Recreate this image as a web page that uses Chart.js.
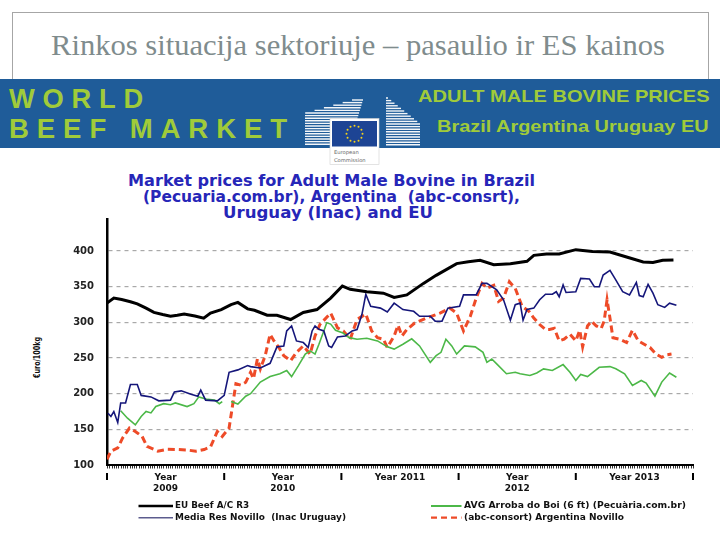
<!DOCTYPE html>
<html><head><meta charset="utf-8">
<script src="https://cdn.jsdelivr.net/npm/chart.js@4/dist/chart.umd.min.js"></script>
<style>
html,body{margin:0;padding:0;background:#fff;width:720px;height:540px;overflow:hidden;}
.abs{position:absolute;white-space:nowrap;}
.fit{display:inline-block;transform-origin:0 50%;}
#titlebox{position:absolute;left:12px;top:12px;width:697px;height:70px;border:1px solid #a6a6a6;box-sizing:border-box;}
#banner{position:absolute;left:0;top:79px;width:720px;height:69px;background:#1f5c99;}
.bn{font-family:'Liberation Sans',Arial,sans-serif;font-weight:bold;color:#a0cb3a;}
.ct{font-family:'DejaVu Sans',sans-serif;font-weight:bold;color:#2626b8;font-size:15px;line-height:15px;}
.lg{font-family:'DejaVu Sans',sans-serif;font-weight:bold;color:#111;font-size:9px;line-height:9px;}
#chartwrap{position:absolute;left:0;top:200px;width:720px;height:340px;}
</style></head><body>
<div id="titlebox"></div>
<div class="abs fit" data-w="614" style="left:51px;top:31px;font-family:'Liberation Serif',serif;font-size:29px;line-height:29px;color:#7f8c8d;">Rinkos situacija sektoriuje – pasaulio ir ES kainos</div>
<div id="banner"></div>
<div class="abs fit bn" data-w="142" style="left:9px;top:84.6px;font-size:28px;line-height:28px;letter-spacing:8px;">WORLD</div>
<div class="abs fit bn" data-w="286" style="left:9px;top:114.6px;font-size:28px;line-height:28px;letter-spacing:8px;">BEEF&nbsp;MARKET</div>
<div class="abs fit bn" data-w="291.6" style="left:417.7px;top:88.3px;font-size:17px;line-height:17px;">ADULT MALE BOVINE PRICES</div>
<div class="abs fit bn" data-w="271.6" style="left:436.7px;top:118.3px;font-size:17px;line-height:17px;">Brazil Argentina Uruguay EU</div>
<svg id="logo" class="abs" style="left:0;top:0" width="720" height="170"></svg>

<div class="abs fit ct" data-w="407" style="left:128px;top:174px;">Market prices for Adult Male Bovine in Brazil</div>
<div class="abs fit ct" data-w="377" style="left:143px;top:189.6px;">(Pecuaria.com.br), Argentina&nbsp; (abc-consrt),</div>
<div class="abs fit ct" data-w="210" style="left:223px;top:205.6px;">Uruguay (Inac) and EU</div>

<div id="ylab" class="abs lg" style="font-size:8.5px;">€uro/100kg</div>

<div id="chartwrap"><canvas id="c" width="720" height="340"></canvas></div>

<svg class="abs" style="left:0;top:495px" width="720" height="30">
  <line x1="138.5" y1="11" x2="173" y2="11" stroke="#000" stroke-width="2.5"/>
  <line x1="138.5" y1="22.7" x2="173" y2="22.7" stroke="#5c5c8e" stroke-width="1.5"/>
  <line x1="431" y1="11" x2="461.5" y2="11" stroke="#4cb848" stroke-width="2"/>
  <line x1="431" y1="22.7" x2="461.5" y2="22.7" stroke="#ee4b28" stroke-width="2.2" stroke-dasharray="6,4"/>
</svg>
<div class="abs fit lg" data-w="74" style="left:174.5px;top:500.7px;">EU Beef A/C R3</div>
<div class="abs fit lg" data-w="171" style="left:174.5px;top:512.7px;">Media Res Novillo&nbsp; (Inac Uruguay)</div>
<div class="abs fit lg" data-w="222" style="left:463.5px;top:500.7px;">AVG Arroba do Boi (6 ft) (Pecuària.com.br)</div>
<div class="abs fit lg" data-w="160" style="left:463.5px;top:512.7px;">(abc-consort) Argentina Novillo</div>

<script>
// ---- data: [month since Jan 2009, euro/100kg] ----
const euBeef = [[0,327],[0.7,334],[1.5,332],[2.4,329],[3.1,326],[4,320],[4.8,314],[5.7,311],[6.5,308.6],[7.2,310],[7.9,311.8],[9,309],[9.9,306],[10.6,313],[11.7,318],[12.7,325],[13.4,328],[14.4,319],[15.1,317],[16.4,310],[17.4,310],[18.8,304],[20.1,314],[21.5,318],[22.9,334],[24.1,351],[24.9,346.4],[26.6,343],[28.3,341],[29.4,335],[30.7,338.6],[32.4,354.7],[33.7,366],[35.8,382.4],[37,385],[38.2,387],[39.6,381],[41.3,382.4],[43,385.7],[43.7,394],[45,396],[46.3,396],[48,402],[49.7,399.5],[51.5,398.6],[53.2,391.7],[54.9,384.8],[55.9,384],[56.9,387],[58,387.5]];
const uruguay = [[0.1,172.5],[0.4,168],[0.7,175],[1.1,159.6],[1.4,187],[1.9,187],[2.4,213],[3.1,213],[3.5,197.6],[4.5,195.5],[5.3,190],[6.5,191],[6.9,202.5],[7.6,204],[8.6,199.3],[9.3,196.5],[9.6,205],[10.1,191],[11.3,190],[12,197.6],[12.5,230],[13.4,233.4],[14.4,239.4],[14.7,238],[15.7,236],[16.7,242.6],[17.4,265.7],[18.1,267],[18.4,288],[18.9,295],[19.4,274],[20.1,271.7],[20.6,264.8],[21,288],[21.3,295],[21.7,290.3],[22.2,288],[22.7,267],[23,264.8],[23.6,279.6],[24.4,281],[25.1,288],[25.6,290],[26.1,311],[26.5,339.5],[27,322.5],[28,320],[28.7,314.6],[29.4,327],[30.3,318],[31.4,315.6],[32,308.6],[33.1,308.6],[33.6,301.7],[34.3,301.7],[34.9,320],[36.1,322.5],[36.5,338.6],[37.8,338.6],[38.4,354.7],[38.9,354.7],[39.9,345.6],[40.6,331.7],[41.3,303],[41.8,324.8],[42.3,327],[42.6,303],[43,318],[43.7,320],[44.3,331.7],[44.9,339.5],[45.6,339.5],[46,343],[46.3,336],[46.7,352.5],[47,342],[48,343],[48.5,361.7],[49.4,360.8],[49.9,350],[50.4,350],[50.8,366.4],[51.5,373],[52,361.7],[52.8,343],[53.5,338.6],[54.2,356],[54.5,337.7],[54.9,336],[55.4,353.4],[55.9,341],[56.4,324.8],[57.1,321],[57.6,327],[58.3,324]];
const brazil = [[1.4,176],[2.1,165.6],[2.9,156.3],[3.5,168],[4,175],[4.5,173],[5,182],[5.8,186],[6.5,184.6],[7,187],[8.2,182],[8.9,186],[9.4,195.5],[10.3,192],[11,191],[11.5,186],[11.8,189],[12.2,null],[12.7,189],[13.4,185.4],[14.2,196.5],[14.7,200],[15.7,216.3],[16.7,224],[17.7,228],[18.4,232.5],[18.9,224],[19.6,239.4],[20.3,255.6],[20.8,260],[21.3,255.6],[21.7,269.4],[22.2,288],[22.5,299.4],[22.9,297.6],[23.4,289],[24.1,285.6],[24.8,278.6],[25.6,276.4],[26.6,277.7],[27.7,274],[28.7,265.7],[29.4,262.5],[30.3,269.4],[31.2,277],[32,267],[33.1,244],[33.7,253.3],[34.2,258],[34.7,276.4],[35.3,267],[35.8,255.6],[36.6,267],[37.7,265.7],[38.5,258],[38.9,244],[39.4,248.7],[39.9,241.8],[40.9,228],[41.8,230],[42.3,228],[43.3,225.6],[44,229],[44.7,234.8],[45.6,232.5],[46.7,240.8],[47.4,230],[48,218.6],[48.5,227],[49.2,224],[50.4,237],[51.5,238],[52.1,235],[53,228],[53.8,211.7],[54.7,218.6],[55.2,215],[56.1,196.5],[56.8,216.3],[57.6,229],[58.3,223]];
const argentina = [[0,108],[0.4,119.4],[1.1,124],[1.6,138],[2.3,151.8],[2.9,147],[3.6,140],[4.1,126],[5.2,119.4],[6.2,122],[7.2,121.7],[8.2,121],[9.1,119.4],[9.95,121.7],[10.6,125.4],[11.3,147],[11.8,140],[12.5,151.8],[13.2,214],[13.7,212],[14.2,216],[14.7,230],[15,221],[15.4,248.7],[15.7,234.8],[16.2,253.3],[16.7,283.3],[17.1,274],[17.6,264.8],[18.1,253.3],[18.8,246.3],[19.4,258],[20.1,267],[20.8,255.6],[21.3,281],[21.8,297],[22.9,313],[23.6,292.4],[24.2,288],[24.9,276.4],[25.6,304],[26.5,311.8],[27.1,288],[27.7,278.6],[28.3,276.4],[28.7,264.8],[29.4,281],[29.8,296],[30.2,281],[30.7,290],[31.5,299],[32.7,306],[34.1,313],[35.1,320],[35.8,313],[36.5,288],[37.2,308.6],[37.8,334],[38.4,354.7],[38.9,347.8],[39.6,352],[40.1,329.4],[40.6,334],[41.2,357],[41.8,347.8],[42.5,322.5],[43.2,315.6],[43.7,306],[44.3,297],[44.9,290],[45.3,290],[45.8,291.6],[46.3,274],[46.8,276.4],[47.4,283.3],[48,274],[48.4,289],[48.7,265.7],[49.2,295],[49.6,301.7],[50.1,295],[50.6,291.6],[50.9,301.7],[51.2,331.7],[51.5,306],[51.8,278.6],[52.5,276.4],[53.2,271.7],[53.8,289],[54.4,274],[55,269.4],[55.6,264.8],[56.2,255.6],[56.8,251],[57.3,254.6],[57.8,255.6]];
const yearLabels = [["Year","2009"],["Year","2010"],"Year 2011",["Year","2012"],"Year 2013"];
const yearCentres = [6,18,30,42,54];
const yTicks = [100,150,200,250,300,350,400];

// ---- text fitting ----
document.querySelectorAll('.fit').forEach(el=>{
  const w=+el.dataset.w; const cur=el.getBoundingClientRect().width;
  el.style.transform='scaleX('+(w/cur)+')';
});
(function(){
  const el=document.getElementById('ylab');
  const r=el.getBoundingClientRect();
  const k=41/r.width;
  el.style.left=(37.5-r.width/2)+'px';
  el.style.top=(357-r.height/2)+'px';
  el.style.transformOrigin='50% 50%';
  el.style.transform='rotate(-90deg) scaleX('+k+')';
})();

// ---- EU logo ----
(function(){
  const svg=document.getElementById('logo'); const NS='http://www.w3.org/2000/svg';
  function add(tag,attrs,txt){const e=document.createElementNS(NS,tag);for(const k in attrs)e.setAttribute(k,attrs[k]);if(txt)e.textContent=txt;svg.appendChild(e);return e;}
  for(let y=100;y<=146;y+=2.6){
    const xl = y<113 ? 352-(y-100)*3.6 : 305;
    const xr = 363-(y-100)*0.3;
    add('line',{x1:xl,y1:y,x2:xr,y2:y,stroke:'#fff','stroke-width':1.4,opacity:0.95});
  }
  for(let y=98;y<=146;y+=2.6){
    const xr=Math.min(420,388+(y-98)*1.25);
    add('line',{x1:386,y1:y,x2:xr,y2:y,stroke:'#fff','stroke-width':1.4,opacity:0.95});
  }
  add('rect',{x:330,y:118.5,width:49,height:46,fill:'#fff',stroke:'#d0d0d0','stroke-width':0.6});
  add('rect',{x:332,y:121,width:45,height:25.5,fill:'#1d4494'});
  for(let i=0;i<12;i++){const a=i*Math.PI/6;add('circle',{cx:354.5+8*Math.cos(a),cy:133.7+8*Math.sin(a),r:1,fill:'#f5d218'});}
  add('text',{x:334,y:154,'font-size':5.2,'font-family':'DejaVu Sans',fill:'#666'},'European');
  add('text',{x:334,y:161.5,'font-size':5.2,'font-family':'DejaVu Sans',fill:'#666'},'Commission');
})();

// ---- chart ----
const pts = s => s.map(p=>({x:p[0], y:p[1]}));
const axisMarks = {
  id:'axisMarks',
  afterDraw(chart){
    const xs=chart.scales.x, ctx=chart.ctx, b=chart.chartArea.bottom;
    ctx.save();
    ctx.strokeStyle='#333'; ctx.lineWidth=1;
    ctx.beginPath();
    for(let w=0; w<=260; w++){
      const px=Math.round(xs.getPixelForValue(w*60/260))+0.5;
      ctx.moveTo(px,b+1); ctx.lineTo(px,b+3.5);
    }
    ctx.stroke();
    ctx.strokeStyle='#000'; ctx.lineWidth=2;
    ctx.beginPath();
    for(let yr=0; yr<=5; yr++){
      const px=xs.getPixelForValue(yr*12);
      ctx.moveTo(px,b+8); ctx.lineTo(px,b+15);
    }
    ctx.stroke();
    ctx.restore();
  }
};
const tickFont = {family:'DejaVu Sans', weight:'bold', size:10};
new Chart(document.getElementById('c'), {
  type:'line',
  data:{datasets:[
    {label:'EU Beef A/C R3', data:pts(euBeef), borderColor:'#000', borderWidth:3, pointRadius:0, tension:0},
    {label:'Media Res Novillo (Inac Uruguay)', data:pts(uruguay), borderColor:'#15167a', borderWidth:1.6, pointRadius:0, tension:0},
    {label:'AVG Arroba do Boi (Pecuària.com.br)', data:pts(brazil), borderColor:'#4cb848', borderWidth:1.6, pointRadius:0, tension:0, spanGaps:false},
    {label:'(abc-consort) Argentina Novillo', data:pts(argentina), borderColor:'#ee4b28', borderWidth:3, borderDash:[7,4], pointRadius:0, tension:0}
  ]},
  options:{
    responsive:false, animation:false, devicePixelRatio:1,
    layout:{padding:{left:28,right:27,top:16,bottom:45}},
    plugins:{legend:{display:false}, tooltip:{enabled:false}, title:{display:false}},
    scales:{
      x:{type:'linear', min:0, max:60,
        afterFit:s=>{s.height=30;},
        afterBuildTicks:s=>{s.ticks=yearCentres.map(v=>({value:v}));},
        ticks:{callback:(v,i)=>yearLabels[i], font:{family:'DejaVu Sans',weight:'bold',size:9,lineHeight:1.2}, color:'#111', padding:7, maxRotation:0, autoSkip:false},
        grid:{display:false, drawTicks:false},
        border:{display:true, color:'#000', width:2}
      },
      y:{min:100, max:445,
        afterFit:s=>{s.width=79;},
        afterBuildTicks:s=>{s.ticks=yTicks.map(v=>({value:v}));},
        ticks:{font:tickFont, color:'#222', padding:13},
        grid:{drawTicks:false, color:c=>(c.tick && c.tick.value===100)?'rgba(0,0,0,0)':'#a9a9a9', lineWidth:1.2},
        border:{display:true, color:'#000', width:2.5, dash:[4,4]}
      }
    }
  },
  plugins:[axisMarks]
});
</script>
</body></html>
